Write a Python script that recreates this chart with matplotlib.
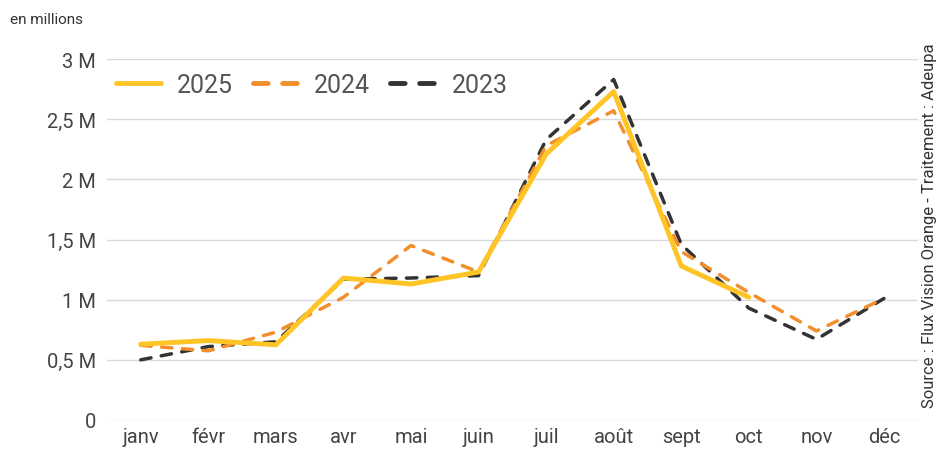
import matplotlib
matplotlib.use("Agg")
from matplotlib import pyplot as plt

plt.rcParams['font.family'] = ['Roboto', 'DejaVu Sans']

mois = ["janv", "févr", "mars", "avr", "mai", "juin", "juil", "août", "sept", "oct", "nov", "déc"]
v2025 = [0.63, 0.66, 0.625, 1.18, 1.13, 1.23, 2.21, 2.73, 1.28, 1.02]
v2024 = [0.62, 0.575, 0.73, 1.02, 1.45, 1.23, 2.28, 2.57, 1.40, 1.06, 0.74, 1.01]
v2023 = [0.50, 0.61, 0.65, 1.17, 1.18, 1.20, 2.33, 2.83, 1.46, 0.93, 0.67, 1.01]
yticks = [0, 0.5, 1, 1.5, 2, 2.5, 3]
ylabels = ["0", "0,5 M", "1 M", "1,5 M", "2 M", "2,5 M", "3 M"]

fig = plt.figure(figsize=(9.51, 4.52), dpi=100)
ax = fig.add_axes([0.1125, 0.0686, 0.8525, 0.7986])

x = list(range(len(mois)))
(l1,) = ax.plot(x[:len(v2025)], v2025, color="#FFC425", lw=3.5, solid_capstyle="round", zorder=4, label="2025")
(l2,) = ax.plot(x, v2024, color="#F28E2B", lw=2.5, ls=(0, (3, 3)), dash_capstyle="round", zorder=3, label="2024")
(l3,) = ax.plot(x, v2023, color="#333333", lw=2.5, ls=(0, (3, 3)), dash_capstyle="round", zorder=2, label="2023")

ax.set_xlim(-0.5, 11.5)
ax.set_ylim(0, 3)
ax.set_xticks(x)
ax.set_xticklabels(mois)
ax.set_yticks(yticks)
ax.set_yticklabels(ylabels)
ax.tick_params(length=0, labelsize=14.5, colors="#444444", pad=8)
ax.tick_params(axis="x", pad=5)
ax.grid(axis="y", color="#d9d9d9", lw=1)
ax.set_axisbelow(True)
for s in ax.spines.values():
    s.set_visible(False)

leg = ax.legend(handles=[l1, l2, l3], loc="upper left", bbox_to_anchor=(-0.017, 1.025), ncol=3,
                frameon=False, fontsize=18, handlelength=1.8, columnspacing=0.8, handletextpad=0.65)
for t in leg.get_texts():
    t.set_color("#555555")
for h in leg.get_lines():
    h.set_linewidth(3.5)

fig.text(0.011, 0.955, "en millions", fontsize=11, color="#333333", ha="left", va="center")
fig.text(0.977, 0.5, "Source : Flux Vision Orange - Traitement : Adeupa", rotation=90,
         fontsize=12, color="#333333", ha="center", va="center")

fig.savefig("out.png", dpi=100)
